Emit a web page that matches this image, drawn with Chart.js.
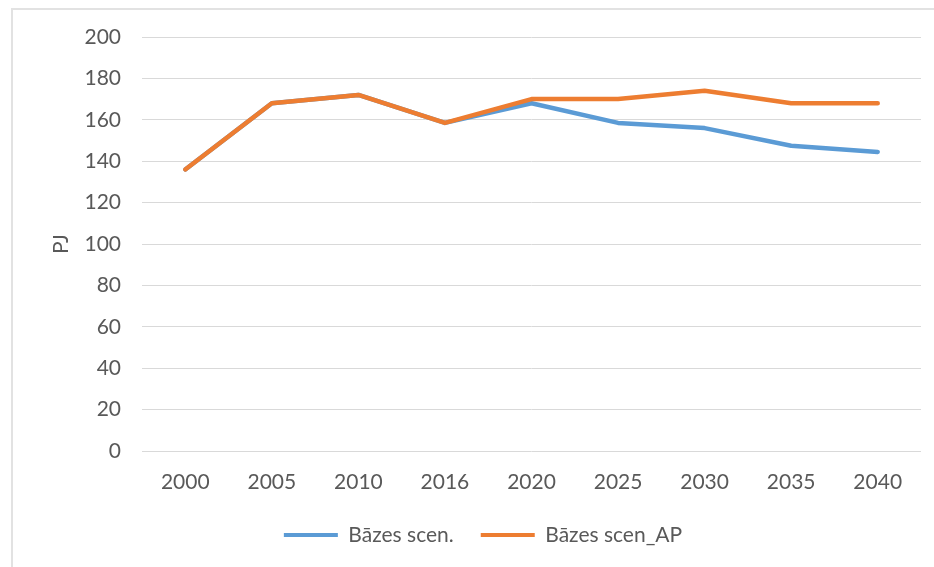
<!DOCTYPE html>
<html>
<head>
<meta charset="utf-8">
<script src="https://cdn.jsdelivr.net/npm/chart.js@4/dist/chart.umd.min.js"></script>
<style>
  html, body { margin: 0; padding: 0; background: #ffffff; }
  #wrap { position: relative; width: 934px; height: 567px; }
  #frame { position: absolute; left: 11px; top: 8px; right: 0; bottom: 0;
           border-left: 2px solid #e2e2e2; border-top: 2px solid #e2e2e2; }
  canvas { position: absolute; left: 0; top: 0; }
</style>
</head>
<body>
<div id="wrap">
  <div id="frame"></div>
  <canvas id="c" width="934" height="567"></canvas>
</div>
<script>
const categories = ['2000', '2005', '2010', '2016', '2020', '2025', '2030', '2035', '2040'];
const seriesNames = ['Bāzes scen.', 'Bāzes scen_AP'];
const bazesScen   = [136, 168, 172, 158.5, 168, 158.5, 156, 147.5, 144.5];
const bazesScenAP = [136, 168, 172, 158.5, 170, 170, 174, 168, 168];
const yTicks = [0, 20, 40, 60, 80, 100, 120, 140, 160, 180, 200];
const yTitle = 'PJ';

const TXT = '#595959';
const FONT = { family: 'Lato, "Open Sans", sans-serif', size: 21 };

new Chart(document.getElementById('c'), {
  type: 'line',
  data: {
    labels: categories,
    datasets: [
      { label: seriesNames[0], data: bazesScen, borderColor: '#5b9bd5', backgroundColor: '#5b9bd5',
        borderWidth: 4.5, pointRadius: 0, tension: 0, borderJoinStyle: 'round', borderCapStyle: 'round', order: 1 },
      { label: seriesNames[1], data: bazesScenAP, borderColor: '#ed7d31', backgroundColor: '#ed7d31',
        borderWidth: 4.5, pointRadius: 0, tension: 0, borderJoinStyle: 'round', borderCapStyle: 'round', order: 0 }
    ]
  },
  options: {
    responsive: false,
    animation: false,
    layout: { padding: { top: 37, right: 13, left: 45, bottom: 11.5 } },
    plugins: {
      tooltip: { enabled: false },
      legend: {
        position: 'bottom',
        labels: {
          color: TXT, font: FONT, boxWidth: 54, boxHeight: 4, padding: 27,
          sort: (a, b) => a.datasetIndex - b.datasetIndex,
          generateLabels: (chart) => chart.data.datasets.map((ds, i) => ({
            text: ds.label, fillStyle: ds.borderColor, strokeStyle: ds.borderColor,
            lineWidth: 0, hidden: false, datasetIndex: i, fontColor: TXT
          }))
        }
      }
    },
    scales: {
      x: {
        offset: true,
        grid: { display: false, drawTicks: false },
        border: { display: false },
        ticks: { color: TXT, font: FONT, padding: 18.4, maxRotation: 0 },
        afterFit: (s) => { s.height = 46.5; }
      },
      y: {
        min: 0, max: 200,
        grid: { color: '#d9d9d9', lineWidth: 1, drawTicks: false },
        border: { display: false },
        afterBuildTicks: (s) => { s.ticks = yTicks.map(v => ({ value: v })); },
        ticks: { color: TXT, font: FONT, padding: 21 },
        title: { display: true, text: yTitle, color: TXT, font: FONT, padding: { top: 4, bottom: 0 } },
        afterFit: (s) => { s.width = 97; }
      }
    }
  }
});
</script>
</body>
</html>
